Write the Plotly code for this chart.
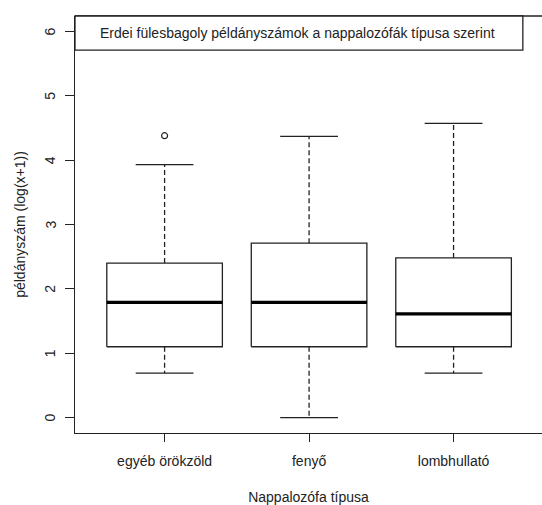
import plotly.graph_objects as go

# Summary statistics of log(x+1) transformed counts per roost-tree type
categories = ["egyéb örökzöld", "fenyő", "lombhullató"]
lower_whisker = [0.69, 0.00, 0.69]
q1 = [1.10, 1.10, 1.10]
median = [1.79, 1.79, 1.61]
q3 = [2.40, 2.71, 2.48]
upper_whisker = [3.93, 4.37, 4.57]
outliers = [[4.38], [], []]

y_ticks = [0, 1, 2, 3, 4, 5, 6]
legend_text = "Erdei fülesbagoly példányszámok a nappalozófák típusa szerint"
x_title = "Nappalozófa típusa"
y_title = "példányszám (log(x+1))"

INK = "#222222"
FONT = "Liberation Sans, Arial, sans-serif"
FS = 14
BOX_HALF = 0.4
CAP_HALF = 0.2

fig = go.Figure()

for i, cat in enumerate(categories):
    x = i + 1
    # box outline
    fig.add_trace(go.Scatter(
        x=[x - BOX_HALF, x + BOX_HALF, x + BOX_HALF, x - BOX_HALF, x - BOX_HALF],
        y=[q1[i], q1[i], q3[i], q3[i], q1[i]],
        mode="lines", line=dict(color=INK, width=1.3), hoverinfo="skip"))
    # median
    fig.add_trace(go.Scatter(
        x=[x - BOX_HALF, x + BOX_HALF], y=[median[i], median[i]],
        mode="lines", line=dict(color="#000000", width=3.2), hoverinfo="skip"))
    # dashed whiskers
    fig.add_trace(go.Scatter(
        x=[x, x, None, x, x],
        y=[q3[i], upper_whisker[i], None, q1[i], lower_whisker[i]],
        mode="lines", line=dict(color=INK, width=1.3, dash="5px,3px"),
        hoverinfo="skip"))
    # whisker caps
    fig.add_trace(go.Scatter(
        x=[x - CAP_HALF, x + CAP_HALF, None, x - CAP_HALF, x + CAP_HALF],
        y=[upper_whisker[i], upper_whisker[i], None,
           lower_whisker[i], lower_whisker[i]],
        mode="lines", line=dict(color=INK, width=1.3), hoverinfo="skip"))
    # outliers
    if outliers[i]:
        fig.add_trace(go.Scatter(
            x=[x] * len(outliers[i]), y=outliers[i], mode="markers",
            marker=dict(symbol="circle-open", size=6, color=INK,
                        line=dict(width=1.2)),
            hoverinfo="skip"))

# rotated y tick labels, placed R-style next to the tick marks
for v in y_ticks:
    fig.add_annotation(xref="paper", yref="y", x=0, y=v, text=str(v),
                       showarrow=False, textangle=-90, xanchor="center",
                       yanchor="middle", xshift=-25,
                       font=dict(family=FONT, size=FS, color=INK))

# top frame line and legend-style title box
fig.add_shape(type="line", xref="paper", yref="paper", x0=0, x1=1, y0=1, y1=1,
              line=dict(color=INK, width=1.3))
fig.add_shape(type="rect", xref="paper", yref="paper",
              x0=0, x1=0.959, y0=0.918, y1=1,
              line=dict(color=INK, width=1.3), fillcolor="white")
fig.add_annotation(xref="paper", yref="paper", x=0.4775, y=0.959,
                   text=legend_text, showarrow=False,
                   font=dict(family=FONT, size=FS, color=INK),
                   xanchor="center", yanchor="middle")

fig.update_layout(
    width=542, height=505,
    margin=dict(l=75, r=0, t=16, b=72),
    plot_bgcolor="white", paper_bgcolor="white",
    showlegend=False,
    font=dict(family=FONT, size=FS, color=INK),
    xaxis=dict(
        range=[0.38, 3.612], tickmode="array",
        tickvals=[1, 2, 3], ticktext=categories,
        showgrid=False, zeroline=False,
        showline=True, linecolor=INK, linewidth=1.3,
        ticks="outside", ticklen=8, tickcolor=INK, tickwidth=1.3,
        tickfont=dict(size=FS, color=INK), ticklabelstandoff=7,
        title=dict(text=x_title, font=dict(size=FS, color=INK), standoff=24),
    ),
    yaxis=dict(
        range=[-0.24, 6.24], tickmode="array", tickvals=y_ticks,
        showticklabels=False,
        showgrid=False, zeroline=False,
        showline=True, linecolor=INK, linewidth=1.3,
        ticks="outside", ticklen=9, tickcolor=INK, tickwidth=1.3,
        title=dict(text=y_title, font=dict(size=FS, color=INK), standoff=35),
    ),
)

fig.write_html("out.html")
